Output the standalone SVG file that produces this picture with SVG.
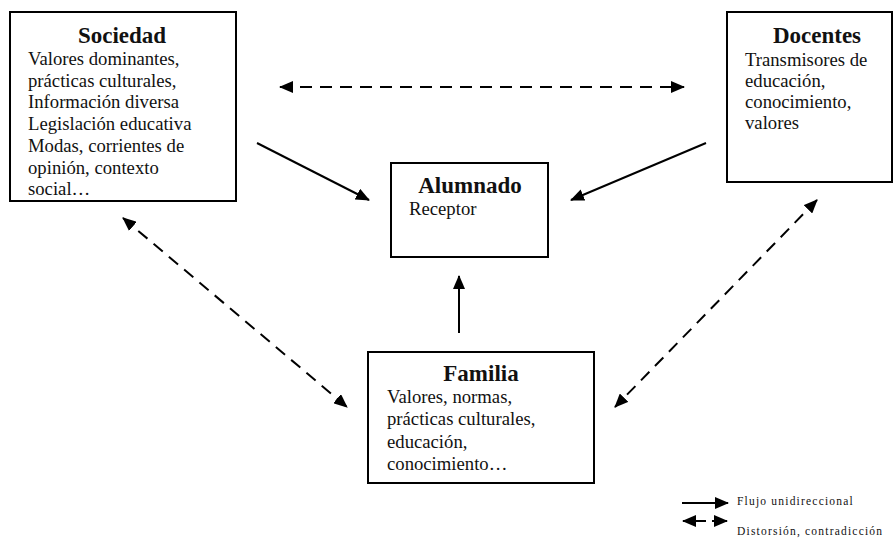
<svg xmlns="http://www.w3.org/2000/svg" width="894" height="543" viewBox="0 0 894 543">
<style>
.box{fill:#fff;stroke:#000;stroke-width:2}
.t{font-family:"Liberation Serif","Times New Roman",serif;font-size:23px;font-weight:bold;text-anchor:middle;fill:#111}
.b{font-family:"Liberation Serif","Times New Roman",serif;font-size:18.7px;fill:#111}
.lg{font-family:"Liberation Serif","Times New Roman",serif;font-size:11.5px;letter-spacing:1.2px;fill:#111}
.solid{stroke:#000;stroke-width:2;fill:none}
.dash{stroke:#000;stroke-width:2;fill:none;stroke-dasharray:12 8}
</style>
<defs>
<marker id="ah" markerUnits="userSpaceOnUse" markerWidth="14" markerHeight="12" viewBox="0 0 14 12" refX="13" refY="6" orient="auto-start-reverse">
<path d="M0,0 L14,6 L0,12 z" fill="#000"/>
</marker>
</defs>
<rect width="894" height="543" fill="#fff"/>
<g id="sociedad">
<rect class="box" x="10" y="12" width="226" height="189"/>
<text class="t" x="122" y="43">Sociedad</text>
<text class="b" x="28" y="65">Valores dominantes,</text>
<text class="b" x="28" y="87">prácticas culturales,</text>
<text class="b" x="28" y="108">Información diversa</text>
<text class="b" x="28" y="130">Legislación educativa</text>
<text class="b" x="28" y="152">Modas, corrientes de</text>
<text class="b" x="28" y="174">opinión, contexto</text>
<text class="b" x="28" y="195">social…</text>
</g>
<g id="docentes">
<rect class="box" x="727" y="12" width="165" height="170"/>
<text class="t" x="817" y="43">Docentes</text>
<text class="b" x="745" y="66">Transmisores de</text>
<text class="b" x="745" y="87">educación,</text>
<text class="b" x="745" y="108">conocimiento,</text>
<text class="b" x="745" y="129">valores</text>
</g>
<g id="alumnado">
<rect class="box" x="391" y="163" width="157" height="94"/>
<text class="t" x="470" y="193">Alumnado</text>
<text class="b" x="409" y="215">Receptor</text>
</g>
<g id="familia">
<rect class="box" x="368" y="352" width="226" height="131"/>
<text class="t" x="481" y="381">Familia</text>
<text class="b" x="387" y="403">Valores, normas,</text>
<text class="b" x="387" y="425">prácticas culturales,</text>
<text class="b" x="387" y="448">educación,</text>
<text class="b" x="387" y="470">conocimiento…</text>
</g>
<g id="connectors">
<line class="dash" x1="280" y1="87" x2="684" y2="87" marker-start="url(#ah)" marker-end="url(#ah)"/>
<line class="solid" x1="257" y1="143" x2="369" y2="200" marker-end="url(#ah)"/>
<line class="solid" x1="706" y1="143" x2="571" y2="200" marker-end="url(#ah)"/>
<line class="solid" x1="459" y1="333" x2="459" y2="276" marker-end="url(#ah)"/>
<line class="dash" x1="123" y1="218" x2="347" y2="407" marker-start="url(#ah)" marker-end="url(#ah)"/>
<line class="dash" x1="817" y1="200" x2="615" y2="407" marker-start="url(#ah)" marker-end="url(#ah)"/>
</g>
<g id="legend">
<line class="solid" x1="682" y1="503" x2="728" y2="503" marker-end="url(#ah)"/>
<text class="lg" x="737" y="505">Flujo  unidireccional</text>
<line class="solid" x1="683" y1="521" x2="706" y2="521" marker-start="url(#ah)"/>
<line class="solid" x1="712" y1="521" x2="727" y2="521" marker-end="url(#ah)"/>
<text class="lg" x="737" y="535">Distorsión, contradicción</text>
</g>
</svg>
